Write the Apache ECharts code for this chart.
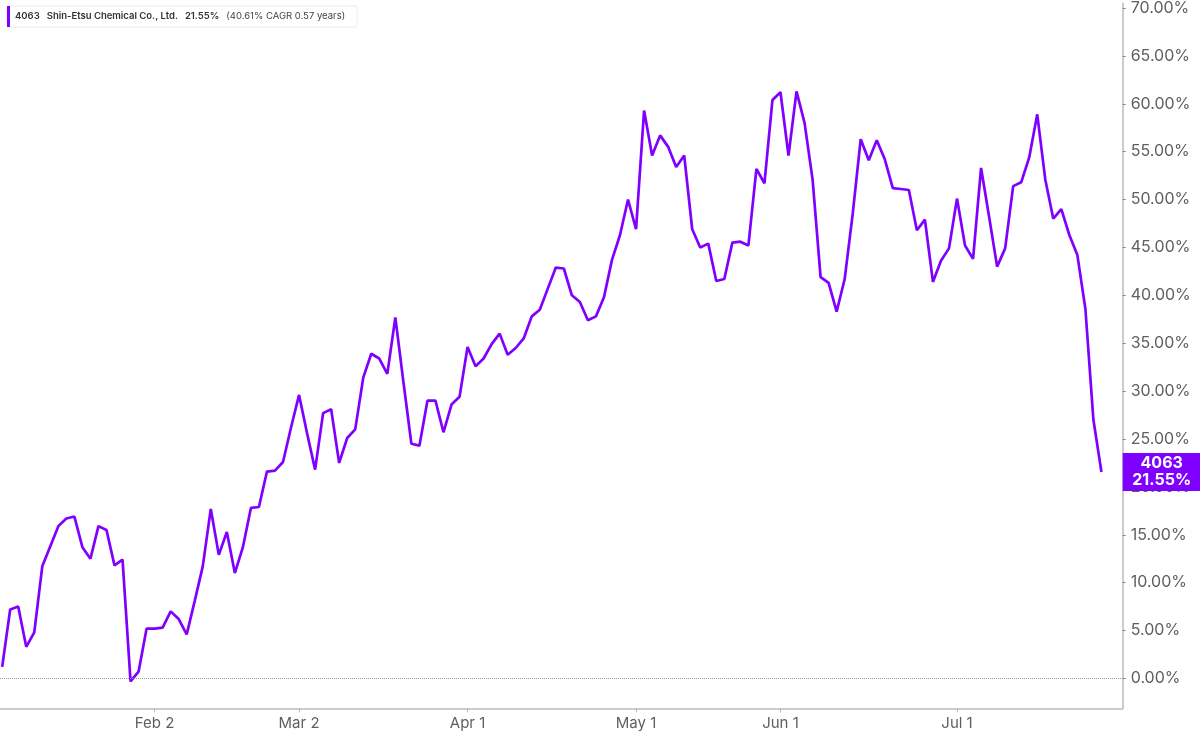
<!DOCTYPE html>
<html>
<head>
<meta charset="utf-8">
<script src="https://cdn.jsdelivr.net/npm/echarts@6/dist/echarts.min.js"></script>
<style>
  html, body { margin: 0; padding: 0; background: #fff; }
  #chart { width: 1200px; height: 735px; }
</style>
</head>
<body>
<div id="chart"></div>
<script>
const ticker = '4063';
const company = 'Shin-Etsu Chemical Co., Ltd.';
const cagrText = '(40.61% CAGR 0.57 years)';

// % change since start, one value per trading day (Jan 5 .. Jul 28)
const pctChange = [
  1.2, 7.2, 7.5, 3.3, 4.8, 11.7, 13.8, 15.9, 16.7, 16.9,
  13.7, 12.5, 15.9, 15.5, 11.8, 12.4, -0.3, 0.7, 5.2, 5.2,
  5.3, 7.0, 6.2, 4.6, 8.1, 11.7, 17.7, 12.9, 15.3, 11.0,
  13.7, 17.8, 17.9, 21.6, 21.7, 22.6, 26.2, 29.6, 25.6, 21.8,
  27.7, 28.1, 22.5, 25.1, 26.0, 31.4, 33.9, 33.4, 31.8, 37.7,
  31.0, 24.5, 24.3, 29.0, 29.0, 25.7, 28.6, 29.4, 34.6, 32.6,
  33.4, 34.9, 36.0, 33.8, 34.5, 35.5, 37.8, 38.5, 40.7, 42.9,
  42.8, 40.0, 39.3, 37.4, 37.8, 39.8, 43.7, 46.3, 50.0, 46.9,
  59.3, 54.6, 56.7, 55.5, 53.4, 54.6, 46.9, 45.0, 45.4, 41.5,
  41.7, 45.5, 45.6, 45.2, 53.2, 51.7, 60.4, 61.2, 54.6, 61.3,
  58.0, 52.1, 41.9, 41.3, 38.3, 41.7, 48.5, 56.3, 54.1, 56.2,
  54.2, 51.2, 51.1, 51.0, 46.8, 47.9, 41.4, 43.6, 44.9, 50.1,
  45.2, 43.8, 53.3, 48.2, 43.0, 44.9, 51.4, 51.8, 54.4, 58.9,
  52.1, 48.0, 49.0, 46.3, 44.2, 38.6, 27.0, 21.55
];

// trading-day index of the first session of each month shown
const tickIndex = [19, 37, 58, 79, 97, 119];
const tickLabels = ['Feb 2', 'Mar 2', 'Apr 1', 'May 1', 'Jun 1', 'Jul 1'];
const yTicks = [0, 5, 10, 15, 20, 25, 30, 35, 40, 45, 50, 55, 60, 65, 70];

const purple = '#7f00ff';
const font = 'Inter';
const xMin = -0.27, xMax = 139.65;
const last = pctChange[pctChange.length - 1];
const lastText = last.toFixed(2) + '%';

const chart = echarts.init(document.getElementById('chart'));

chart.setOption({
  animation: false,
  backgroundColor: '#fff',
  grid: { left: 0, right: 77.3, top: 0, bottom: 26.7 },
  legend: {
    data: [ticker],
    left: 7, top: 6,
    icon: 'rect',
    itemWidth: 3, itemHeight: 21,
    padding: [0, 12, 0, 0],
    backgroundColor: '#fff',
    borderColor: '#ececec', borderWidth: 1, borderRadius: 2,
    selectedMode: false,
    formatter: () => `{b|${ticker}}{b|${company}}{b|${lastText}}{n|${cagrText}}`,
    textStyle: {
      rich: {
        b: { fontFamily: font, fontSize: 9.5, fontWeight: 600, color: '#333', padding: [0, 7, 0, 0] },
        n: { fontFamily: font, fontSize: 9.5, color: '#444' }
      }
    }
  },
  xAxis: {
    type: 'value',
    min: xMin, max: xMax,
    axisLine: { show: true, onZero: false, lineStyle: { color: '#bbb', width: 1.5 } },
    axisTick: { show: true, customValues: tickIndex, length: 4, lineStyle: { color: '#bbb' } },
    axisLabel: {
      customValues: tickIndex,
      formatter: v => tickLabels[tickIndex.indexOf(v)],
      fontFamily: font, fontSize: 15, color: '#5f5f5f', margin: 8
    },
    splitLine: { show: false }
  },
  yAxis: {
    type: 'value',
    position: 'right',
    min: -3.12, max: 70.5,
    axisLine: { show: true, onZero: false, lineStyle: { color: '#bbb', width: 1.5 } },
    axisTick: { show: true, customValues: yTicks, length: 3, lineStyle: { color: '#888' } },
    axisLabel: {
      customValues: yTicks,
      formatter: v => v.toFixed(2) + '%',
      fontFamily: font, fontSize: 16, color: '#5f5f5f', margin: 8
    },
    splitLine: { show: false }
  },
  series: [{
    name: ticker,
    type: 'line',
    data: pctChange.map((v, i) => [i, v]),
    color: purple,
    showSymbol: false,
    lineStyle: { width: 2.7, color: purple },
    markLine: {
      silent: true,
      symbol: 'none',
      label: { show: false },
      lineStyle: { type: 'dotted', color: '#999', width: 1 },
      data: [{ yAxis: 0 }]
    },
    markPoint: {
      silent: true,
      symbol: 'rect',
      symbolSize: [78, 38],
      symbolOffset: [39, 0],
      itemStyle: { color: purple },
      label: {
        show: true, position: 'inside',
        color: '#fff', fontFamily: font, fontWeight: 'bold', fontSize: 16, lineHeight: 17,
        formatter: () => ticker + '\n' + lastText
      },
      data: [{ coord: [xMax, last] }]
    }
  }]
});
</script>
</body>
</html>
